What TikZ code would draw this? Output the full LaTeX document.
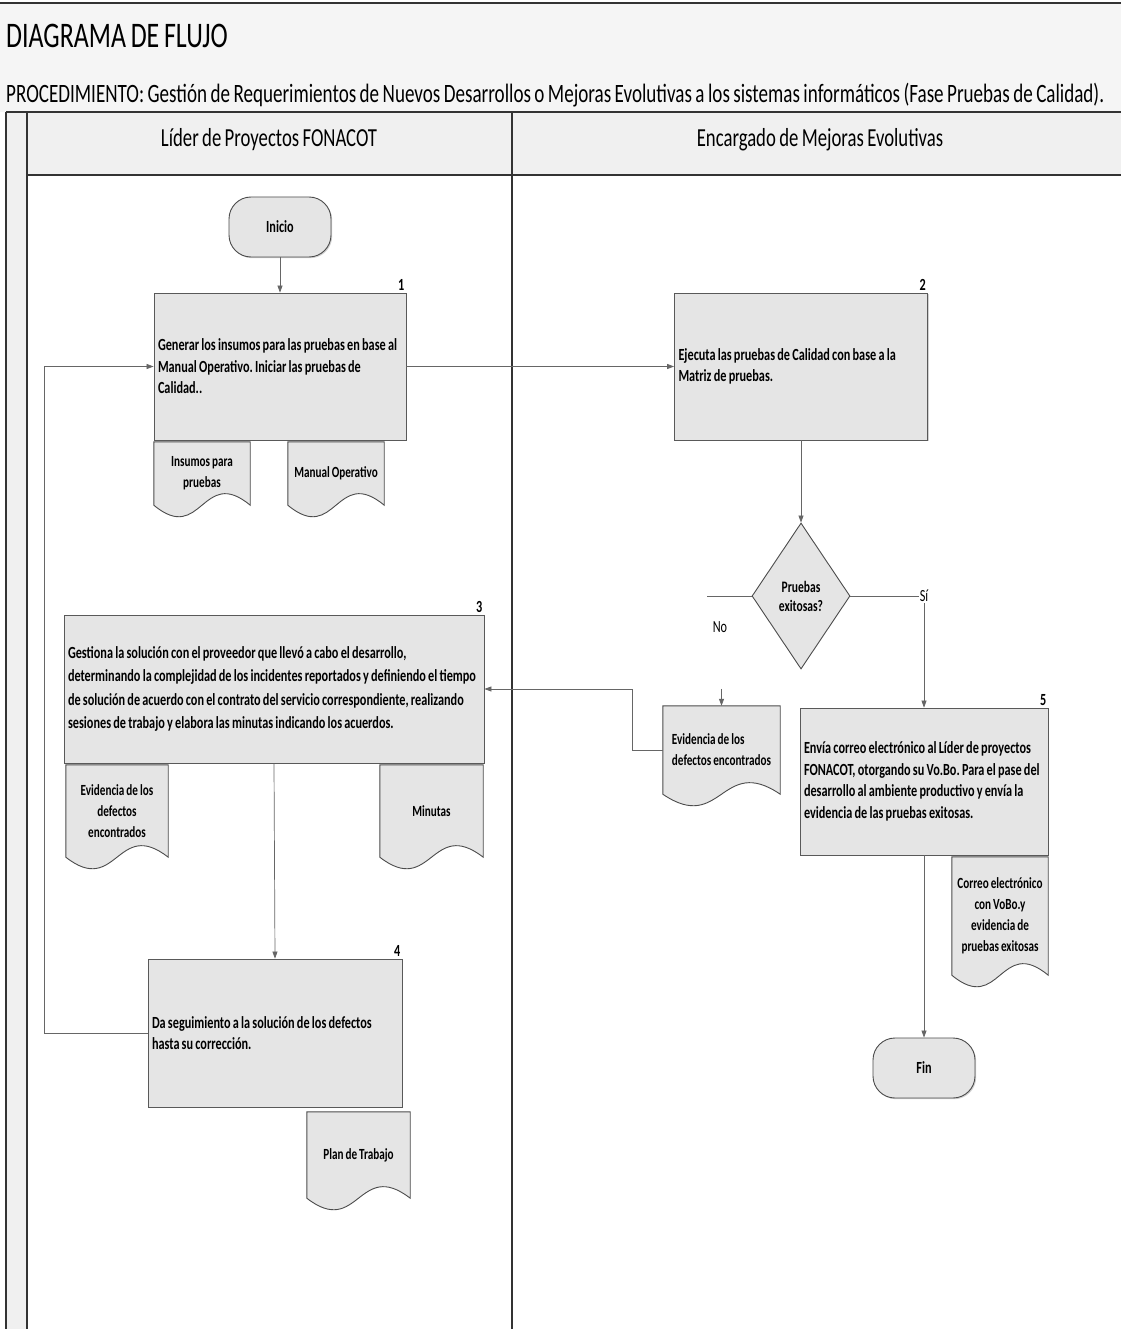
\documentclass[tikz,border=0pt]{standalone}
\usepackage{fontspec}
\setmainfont{Carlito}[FakeStretch=0.72, WordSpace=0.8]
\usetikzlibrary{shapes.geometric,arrows.meta,calc,shadows}
\pgfdeclarelayer{back}
\pgfdeclarelayer{bg}
\pgfsetlayers{back,bg,main}

% document symbol: a node whose outline gets a wavy bottom edge
\newcommand\docnode[6][flush center]{%
  \node[docbox, align=#1, minimum width=#4pt, minimum height=#5pt] (#2) at (#3) {#6};
  \begin{pgfonlayer}{bg}
    \draw[docline] (#2.north west) -- (#2.north east) -- (#2.south east)
      .. controls ($(#2.south)+(0,-40)$) and ($(#2.south)+(0,40)$) .. (#2.south west) -- cycle;
  \end{pgfonlayer}}

\begin{document}
\frenchspacing
\hyphenpenalty=10000
\begin{tikzpicture}[x=1pt,y=-1pt,
  frameline/.style={draw=black!80, line width=1.1pt},
  proc/.style={rectangle, draw=black!65, line width=0.8pt, fill=gray!20,
    drop shadow={shadow xshift=1.2pt, shadow yshift=-1.2pt, fill=black!35},
    inner sep=4pt, align=flush left,
    font=\fontsize{17}{21.5}\selectfont\bfseries},
  term/.style={rectangle, rounded corners=22pt, draw=black!70, line width=0.9pt, fill=gray!20,
    drop shadow={shadow xshift=1.2pt, shadow yshift=-1.2pt, fill=black!35},
    minimum width=102pt, minimum height=60pt, font=\fontsize{17}{19}\selectfont\bfseries},
  dec/.style={diamond, draw=black!70, line width=0.9pt, fill=gray!20, inner sep=0pt,
    minimum width=98pt, minimum height=146pt, align=flush center,
    font=\fontsize{16}{19}\selectfont\bfseries},
  docbox/.style={rectangle, inner sep=2pt, font=\fontsize{15.5}{21}\selectfont\bfseries},
  docline/.style={draw=black!70, line width=0.9pt, fill=gray!20},
  conn/.style={draw=black!60, line width=0.7pt},
  arr/.style={conn, -{Triangle[width=5pt,length=7pt]}},
  num/.style={anchor=south east, inner sep=2pt, font=\fontsize{17}{17}\selectfont\bfseries},
  lbl/.style={inner sep=1pt, font=\fontsize{17}{17}\selectfont},
]
% page and frame
\useasboundingbox (0,0) rectangle (1121,1329);
\begin{pgfonlayer}{back}
  \fill[white] (0,0) rectangle (1121,1329);
  \fill[gray!8] (0,3) rectangle (1121,112);
  \fill[gray!12] (27,112) rectangle (1121,175);
  \fill[gray!12] (6,112) rectangle (27,1329);
\end{pgfonlayer}
\draw[frameline] (0,3) -- (1121,3);
\draw[frameline] (6,112) -- (1121,112);
\draw[frameline] (27,175) -- (1121,175);
\draw[frameline] (6,112) -- (6,1329);
\draw[frameline] (27,112) -- (27,1329);
\draw[frameline] (512,112) -- (512,1329);

\node[anchor=west, inner sep=0pt, font=\fontsize{36}{36}\selectfont] (title) at (6,36) {DIAGRAMA DE FLUJO};
\node[anchor=west, inner sep=0pt, font=\fontsize{26.5}{26.5}\selectfont] (subtitle) at (6,95)
  {PROCEDIMIENTO: Gestión de Requerimientos de Nuevos Desarrollos o Mejoras Evolutivas a los sistemas informáticos (Fase Pruebas de Calidad).};
\node[font=\fontsize{26}{26}\selectfont] (laneA) at (269,140) {Líder de Proyectos FONACOT};
\node[font=\fontsize{26}{26}\selectfont] (laneB) at (820,140) {Encargado de Mejoras Evolutivas};

% activities
\node[term] (ini) at (280,227) {Inicio};
\node[proc, minimum width=252pt, minimum height=147pt, text width=244pt] (b1) at (280,366.5)
  {Generar los insumos para las pruebas en base al\\Manual Operativo. Iniciar las pruebas de\\Calidad..};
\node[num] at (b1.north east) {1};
\node[proc, minimum width=253pt, minimum height=147pt, text width=245pt] (b2) at (801,366.5)
  {Ejecuta las pruebas de Calidad con base a la\\Matriz de pruebas.};
\node[num] at (b2.north east) {2};
\node[dec] (dia) at (801,596) {Pruebas\\exitosas?};
\node[proc, minimum width=420pt, minimum height=148pt, text width=412pt,
  font=\fontsize{17}{23.5}\selectfont\bfseries] (b3) at (274,689)
  {Gestiona la solución con el proveedor que llevó a cabo el desarrollo,\\determinando la complejidad de los incidentes reportados y definiendo el tiempo\\de solución de acuerdo con el contrato del servicio correspondiente, realizando\\sesiones de trabajo y elabora las minutas indicando los acuerdos.};
\node[num] at (b3.north east) {3};
\node[proc, minimum width=254pt, minimum height=148pt, text width=246pt] (b4) at (275,1033)
  {Da seguimiento a la solución de los defectos\\hasta su corrección.};
\node[num] at (b4.north east) {4};
\node[proc, minimum width=248pt, minimum height=147pt, text width=240pt] (b5) at (924,781.5)
  {Envía correo electrónico al Líder de proyectos\\FONACOT, otorgando su Vo.Bo. Para el pase del\\desarrollo al ambiente productivo y envía la\\evidencia de las pruebas exitosas.};
\node[num] at (b5.north east) {5};
\node[term] (fin) at (924,1068) {Fin};

% documents
\docnode{d1}{202,473.5}{96}{63}{Insumos para\\pruebas}
\docnode{d2}{336,473.5}{96}{63}{Manual Operativo}
\docnode[flush left]{ev2}{721.5,750}{117}{88}{Evidencia de los\\defectos encontrados}
\docnode{d3}{117,811}{102}{92}{Evidencia de los\\defectos\\encontrados}
\docnode{d4}{431.5,811}{103}{92}{Minutas}
\docnode{d5}{358.5,1155}{103}{86}{Plan de Trabajo}
\docnode{d6}{1000,916}{96}{118}{Correo electrónico\\con VoBo.y\\evidencia de\\pruebas exitosas}

% connectors
\draw[arr] (ini.south) -- (b1.north);
\draw[arr] (b1.east) -- (b2.west);
\draw[arr] (b2.south) -- (dia.north);
\node[lbl] (si) at (b5.north |- dia.east) {Sí};
\draw[conn] (dia.east) -- (si.west);
\draw[arr] (si.south) -- (b5.north);
\node[lbl] (no) at (720,627) {No};
\coordinate (noend) at (707,596);
\draw[conn] (dia.west) -- (noend);
\coordinate (nostart) at ($(ev2.north)+(0,-17)$);
\draw[arr] (nostart) -- (ev2.north);
\draw[arr] (ev2.west) -- ++(-30,0) |- (b3.east);
\draw[arr] (b3.south) -- (b4.north);
\draw[arr] (b4.west) -- ++(-103,0) |- (b1.west);
\draw[arr] (b5.south) -- (fin.north);
\end{tikzpicture}
\end{document}
